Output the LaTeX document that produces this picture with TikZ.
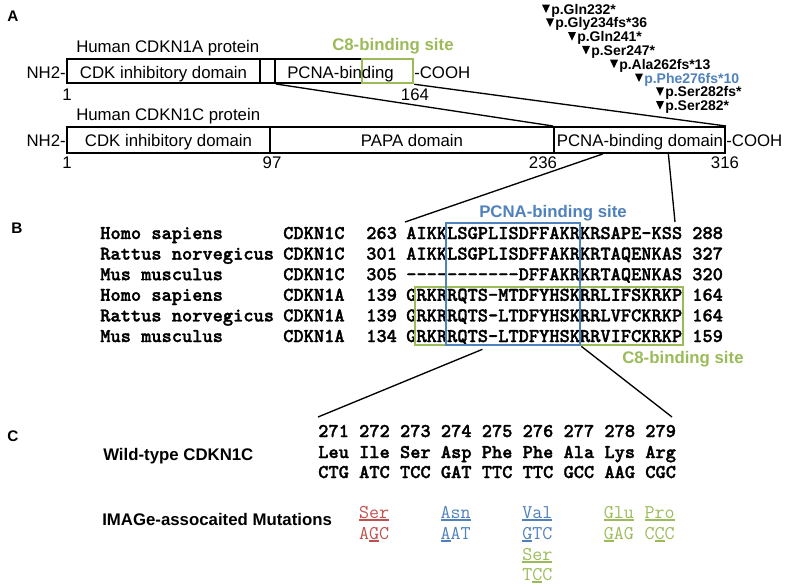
\documentclass[tikz,border=0pt]{standalone}
\usepackage{fontspec}
\setmainfont{Liberation Sans}
\newfontfamily\seqbf{lmmonolt10-bold}[Extension=.otf,FakeBold=1.6]
\usetikzlibrary{fit,calc}
\definecolor{ored}{HTML}{C0504D}
\definecolor{oblue}{HTML}{4F81BD}
\definecolor{ogreen}{HTML}{9BBB59}
\newcommand\myul[1]{\setbox0\hbox{#1}\rlap{\smash{\rule[-2pt]{\wd0}{0.9pt}}}\box0}
\newcommand\hy{\mbox{-}}
\newcommand\mutation[5]{%
  \node[mut,text=#4] (#1) at (#2+9,#3) {#5};
  \fill ($(#1.base west)+(-9,-9.5)$) -- ++(8,0) -- ++(-4,8.5) -- cycle;}
\begin{document}
\begin{tikzpicture}[x=0.75pt,y=-0.75pt,
 lab/.style={font=\fontsize{12.6}{15}\selectfont,inner sep=0pt},
 blab/.style={font=\bfseries\fontsize{12.6}{15}\selectfont,inner sep=0pt},
 panel/.style={font=\bfseries\fontsize{11.5}{13}\selectfont,inner sep=0pt,anchor=base west},
 mut/.style={font=\bfseries\fontsize{10.5}{12}\selectfont,inner sep=0pt,anchor=base west},
 seq/.style={font=\seqbf\fontsize{14.6}{16}\selectfont,inner sep=0pt,anchor=base west},
 var/.style={font=\ttfamily\fontsize{14.6}{16}\selectfont,inner sep=0pt,anchor=base west},
 dom/.style={draw,line width=1.5pt,inner sep=0pt},
 conn/.style={line width=1pt},
 ]
\useasboundingbox (0,0) rectangle (785,586);

% ---------------- Panel A ----------------
\node[panel] (pA) at (7,21) {A};
\node[lab,anchor=base west] (t1a) at (76,52) {Human CDKN1A protein};
\node[blab,anchor=base west,text=ogreen] (c8a) at (332,50) {C8-binding site};
\node[lab,anchor=base east] (nh1) at (66,78) {NH2-};
\node[dom,fit={(67,59)(260,83)}] (a1cdk) {};
\node[dom,fit={(260,59)(275,83)}] (a1mid) {};
\node[dom,fit={(275,59)(413,83)}] (a1pcna) {};
\node[draw=ogreen,line width=1.9pt,inner sep=0pt,fit={(362,59)(413,83)}] (a1c8) {};
\node[lab,anchor=base] (a1cdkt) at (163.5,78) {CDK inhibitory domain};
\node[lab,anchor=base west] (a1pcnat) at (287,78) {PCNA-binding};
\node[lab,anchor=base west] (cooh1) at (414,78) {-COOH};
\node[lab,anchor=base] (n1a) at (67,100) {1};
\node[lab,anchor=base] (n164) at (415,100) {164};

\node[lab,anchor=base west] (t1c) at (76,120) {Human CDKN1C protein};
\node[lab,anchor=base east] (nh2) at (66,146.5) {NH2-};
\node[dom,fit={(67,127)(270,153)}] (c1cdk) {};
\node[dom,fit={(270,127)(554,153)}] (c1papa) {};
\node[dom,fit={(554,127)(725,153)}] (c1pcna) {};
\node[lab,anchor=base] (c1cdkt) at (168.5,146.5) {CDK inhibitory domain};
\node[lab,anchor=base] (c1papat) at (412,146.5) {PAPA domain};
\node[lab,anchor=base] (c1pcnat) at (640,146.5) {PCNA-binding domain};
\node[lab,anchor=base west] (cooh2) at (726,146.5) {-COOH};
\node[lab,anchor=base] (n1c) at (67,168) {1};
\node[lab,anchor=base] (n97) at (272,168) {97};
\node[lab,anchor=base] (n236) at (543,168) {236};
\node[lab,anchor=base] (n316) at (725,168) {316};

\draw[conn] (a1mid.south east) -- (c1pcna.north west);
\draw[conn] (a1c8.south east) -- (c1pcna.north east);

\mutation{m1}{542}{14}{black}{p.Gln232*}
\mutation{m2}{546}{27.8}{black}{p.Gly234fs*36}
\mutation{m3}{568}{41.6}{black}{p.Gln241*}
\mutation{m4}{582}{55.4}{black}{p.Ser247*}
\mutation{m5}{610}{69.2}{black}{p.Ala262fs*13}
\mutation{m6}{635}{83}{oblue}{p.Phe276fs*10}
\mutation{m7}{656}{96.8}{black}{p.Ser282fs*}
\mutation{m8}{656}{110.6}{black}{p.Ser282*}

% ---------------- Panel B ----------------
\node[panel] (pB) at (11,233) {B};
\foreach \i/\sp/\g/\n/\s/\e in {
 1/Homo sapiens/CDKN1C/263/AIKKLSGPLISDFFAKRKRSAPE\hy KSS/288,
 2/Rattus norvegicus/CDKN1C/301/AIKKLSGPLISDFFAKRKRTAQENKAS/327,
 3/Mus musculus/CDKN1C/305/\hy\hy\hy\hy\hy\hy\hy\hy\hy\hy\hy DFFAKRKRTAQENKAS/320,
 4/Homo sapiens/CDKN1A/139/GRKRRQTS\hy MTDFYHSKRRLIFSKRKP/164,
 5/Rattus norvegicus/CDKN1A/139/GRKRRQTS\hy LTDFYHSKRRLVFCKRKP/164,
 6/Mus musculus/CDKN1A/134/GRKRRQTS\hy LTDFYHSKRRVIFCKRKP/159}{
  \node[seq] (sp\i) at (100,{239+20.6*(\i-1)}) {\sp};
  \node[seq] (g\i) at (283,{239+20.6*(\i-1)}) {\g};
  \node[seq] (n\i) at (366,{239+20.6*(\i-1)}) {\n};
  \node[seq] (s\i) at (406,{239+20.6*(\i-1)}) {\s};
  \node[seq] (e\i) at (692,{239+20.6*(\i-1)}) {\e};
}
\node[draw=ogreen,line width=1.9pt,inner sep=0pt,fit={(415,287)(683,345)}] (c8box) {};
\node[draw=oblue,line width=2pt,inner sep=0pt,fit={(446,223)(580,345)}] (pbox) {};
\node[blab,text=oblue,anchor=base] (pcnasite) at (553,217) {PCNA-binding site};
\node[blab,text=ogreen,anchor=base west] (c8b) at (622,363) {C8-binding site};

\coordinate (sa) at (405,222);
\coordinate (sb) at (675,222);
\draw[conn] ($(c1pcna.south west)!0.287!(c1pcna.south east)$) -- (sa);
\draw[conn] ($(c1pcna.south west)!0.667!(c1pcna.south east)$) -- (sb);

% ---------------- Panel C ----------------
\node[panel] (pC) at (7,441) {C};
\coordinate (wa) at (318,417);
\coordinate (wb) at (672,417);
\draw[conn] ($(pbox.south west)!0.276!(pbox.south east)+(0,3)$) -- (wa);
\draw[conn] (pbox.south east) -- (wb);

\node[blab,anchor=base west] (wt) at (103,460) {Wild-type CDKN1C};
\node[seq] (cnum) at (318,437) {271 272 273 274 275 276 277 278 279};
\node[seq] (caa) at (318,458) {Leu Ile Ser Asp Phe Phe Ala Lys Arg};
\node[seq] (ccod) at (318,478) {CTG ATC TCC GAT TTC TTC GCC AAG CGC};
\node[blab,anchor=base west] (imt) at (102,525) {IMAGe-assocaited Mutations};

\node[var,text=ored] (v1a) at (358.8,518) {\myul{Ser}};
\node[var,text=ored] (v1c) at (358.8,539) {A\myul{G}C};
\node[var,text=oblue] (v2a) at (440.4,518) {\myul{Asn}};
\node[var,text=oblue] (v2c) at (440.4,539) {\myul{A}AT};
\node[var,text=oblue] (v3a) at (522,518) {\myul{Val}};
\node[var,text=oblue] (v3c) at (522,539) {\myul{G}TC};
\node[var,text=ogreen] (v4a) at (522,560) {\myul{Ser}};
\node[var,text=ogreen] (v4c) at (522,580) {T\myul{C}C};
\node[var,text=ogreen] (v5a) at (603.6,518) {\myul{Glu}};
\node[var,text=ogreen] (v5c) at (603.6,539) {\myul{G}AG};
\node[var,text=ogreen] (v6a) at (644.4,518) {\myul{Pro}};
\node[var,text=ogreen] (v6c) at (644.4,539) {C\myul{C}C};
\end{tikzpicture}
\end{document}
